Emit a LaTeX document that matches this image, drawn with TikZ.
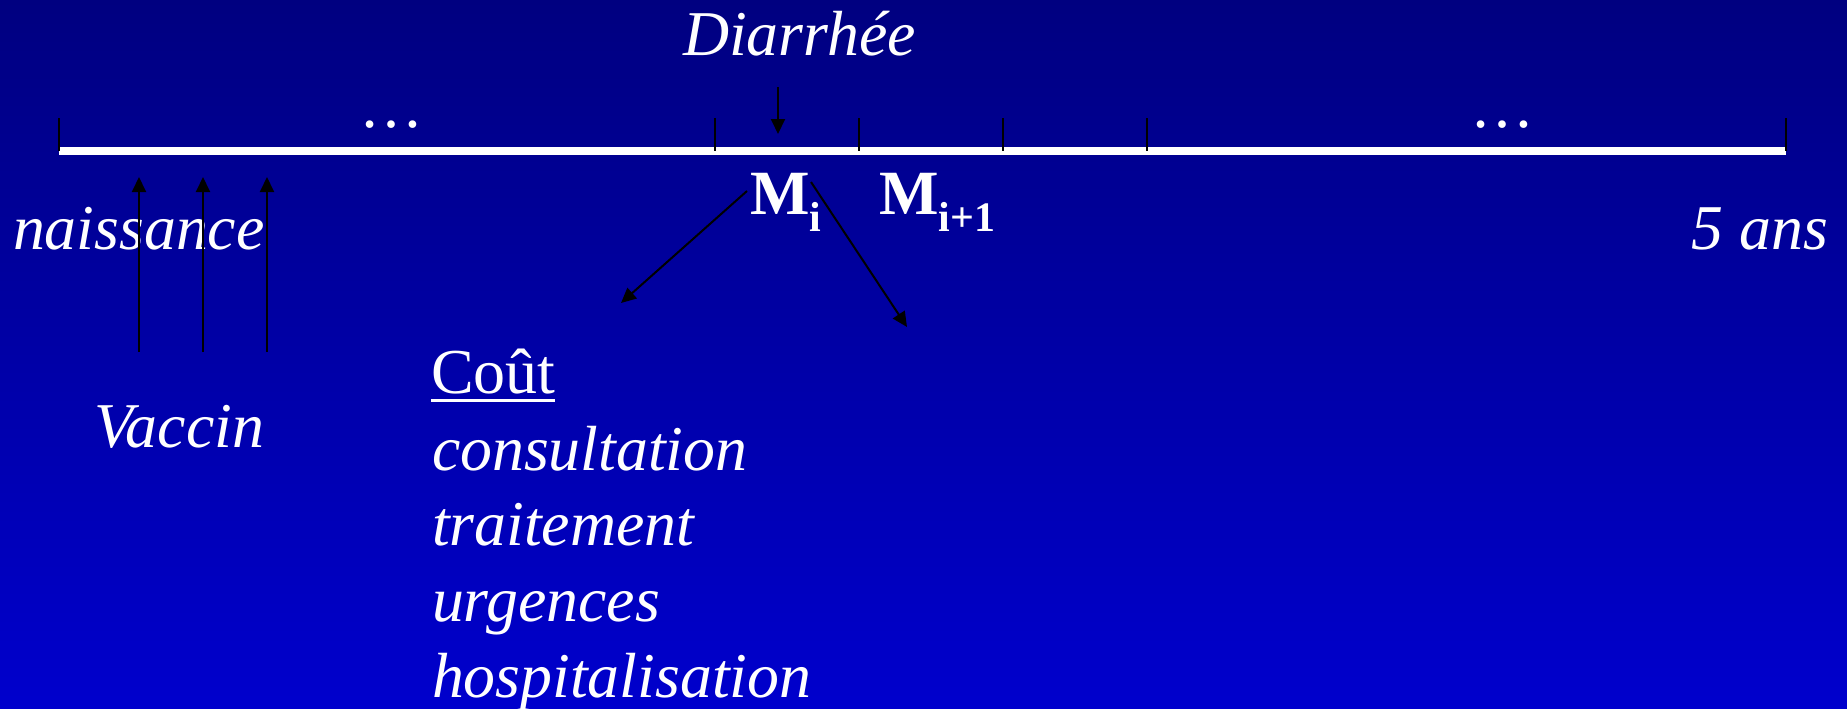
\documentclass[tikz,border=0pt]{standalone}
\usepackage{fontspec}
\setmainfont{Liberation Serif}
\usetikzlibrary{arrows.meta,calc}
\begin{document}
\begin{tikzpicture}[x=1pt,y=-1pt,
  lbl/.style={text=white,inner sep=0pt,outer sep=0pt,font=\fontsize{64}{76}\selectfont},
  ilbl/.style={lbl,font=\fontsize{63.8}{76}\selectfont\itshape},
  blbl/.style={lbl,font=\fontsize{63}{76}\selectfont\bfseries},
  tick/.style={black,line width=2pt},
  arr/.style={black,line width=2pt,-{Triangle[length=15pt,width=14pt]}}]
\useasboundingbox (0,0) rectangle (1847,709);
\shade[top color={rgb,255:red,0;green,0;blue,128},bottom color={rgb,255:red,0;green,0;blue,205}] (0,0) rectangle (1847,709);
% timeline
\coordinate (tl0) at (59,151);
\coordinate (tl1) at (1786,151);
\draw[white,line width=8pt] (tl0) -- (tl1);
\foreach \x in {59,715,859,1003,1147,1786}
  \draw[tick] (\x,118) -- (\x,151);
% dots
\node[lbl,anchor=base] (dotsL) at (391,127) {…};
\node[lbl,anchor=base] (dotsR) at (1502,127) {…};
% labels
\node[ilbl,anchor=base west] (diar) at (683,56) {Diarrhée};
\node[ilbl,anchor=base west] (nais) at (13,249) {naissance};
\node[ilbl,anchor=base east] (ans) at (1828,249) {5 ans};
\node[blbl,anchor=base west] (mi) at (750,214) {M\raisebox{-17pt}{\fontsize{42}{42}\selectfont i}};
\node[blbl,anchor=base west] (mi1) at (879,214) {M\raisebox{-17pt}{\fontsize{42}{42}\selectfont i+1}};
\node[ilbl,anchor=base west] (vacc) at (94,447) {Vaccin};
\node[lbl,anchor=base west] (cout) at (431,393) {Coût};
\draw[white,line width=3pt] ($(cout.base west)+(0,7)$) -- ($(cout.base east)+(0,7)$);
\node[ilbl,anchor=base west] (c1) at (432,470) {consultation};
\node[ilbl,anchor=base west] (c2) at (432,545) {traitement};
\node[ilbl,anchor=base west] (c3) at (432,621) {urgences};
\node[ilbl,anchor=base west] (c4) at (432,697) {hospitalisation};
% arrows
\coordinate (d0) at (778,87);
\coordinate (d1) at (778,134);
\draw[arr] (d0) -- (d1);
\foreach \x/\n in {139/a,203/b,267/c}{
  \coordinate (v\n0) at (\x,352);
  \coordinate (v\n1) at (\x,177);
  \draw[arr] (v\n0) -- (v\n1);
}
\coordinate (mL0) at (747,191);
\coordinate (mL1) at (621,303);
\coordinate (mR0) at (811,182);
\coordinate (mR1) at (907,327);
\draw[arr] (mL0) -- (mL1);
\draw[arr] (mR0) -- (mR1);
\end{tikzpicture}
\end{document}
